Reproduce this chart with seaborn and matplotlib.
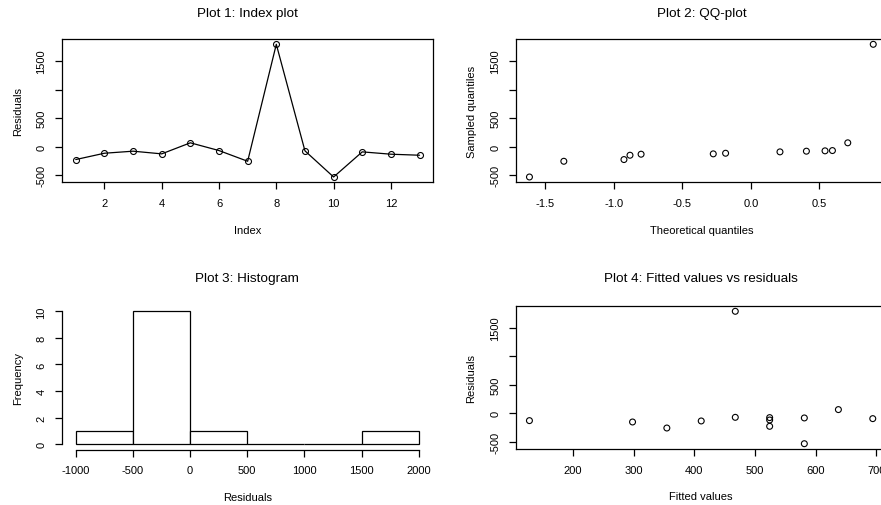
import numpy as np
import matplotlib
matplotlib.use('Agg')
import matplotlib.pyplot as plt
import seaborn as sns

index = list(range(1, 14))
residuals = [-229, -118, -82, -129, 65, -71, -259, 1794, -76, -535, -94, -135, -153]
# theoretical quantiles as drawn in plot 2 (sorted)
theo_q = [-1.617, -1.366, -0.927, -0.883, -0.802, -0.275, -0.185,
          0.212, 0.405, 0.541, 0.595, 0.707, 0.893]
# fitted values per index (plot 4)
fitted = [524.2, 524.2, 581.3, 128.6, 637.4, 467.6, 354.9,
          467.6, 524.2, 581.3, 694.0, 411.5, 298.4]
hist_bins = [-1000, -500, 0, 500, 1000, 1500, 2000]

res_ticks = [-500, 0, 500, 1000, 1500]
res_labels = ['-500', '0', '500', '', '1500']  # R drops the overlapping 1000 label

sns.set_style('ticks')
plt.rcParams['font.family'] = ['Liberation Sans', 'DejaVu Sans']
plt.rcParams.update({
    'axes.unicode_minus': False,
    'xtick.major.size': 5.2, 'ytick.major.size': 5.2,
    'xtick.major.width': 0.9, 'ytick.major.width': 0.9,
    'xtick.major.pad': 6.0, 'ytick.major.pad': 6.0,
    'xtick.labelsize': 8, 'ytick.labelsize': 8,
    'axes.labelsize': 8, 'axes.titlesize': 9.7,
    'axes.linewidth': 0.9, 'axes.edgecolor': 'black',
    'xtick.color': 'black', 'ytick.color': 'black',
    'text.color': 'black', 'axes.labelcolor': 'black',
})

W, H = 881, 506
fig = plt.figure(figsize=(W / 100, H / 100), dpi=100)


def px_axes(l, t, r, b):
    return fig.add_axes([l / W, 1 - b / H, (r - l) / W, (b - t) / H])


def r_lim(vals):
    lo, hi = min(vals), max(vals)
    d = (hi - lo) * 0.04
    return lo - d, hi + d


def finish(ax, title, xlabel, ylabel, title_pad=16.3):
    ax.set_title(title, pad=title_pad)
    ax.set_xlabel(xlabel, labelpad=12)
    ax.set_ylabel(ylabel, labelpad=9.8)
    ax.tick_params(axis='y', labelrotation=90)
    plt.setp(ax.get_yticklabels(), va='center')


# Plot 1
ax1 = px_axes(62, 40, 433.3, 183.3)
sns.lineplot(x=index, y=residuals, ax=ax1, color='black', lw=0.9,
             marker='o', markersize=4.3, markerfacecolor='none',
             markeredgecolor='black', markeredgewidth=0.8)
ax1.set_xlim(r_lim(index))
ax1.set_ylim(r_lim(residuals))
ax1.set_xticks([2, 4, 6, 8, 10, 12])
ax1.set_yticks(res_ticks, res_labels)
finish(ax1, 'Plot 1: Index plot', 'Index', 'Residuals')

# Plot 2
ax2 = px_axes(515.7, 40, 887, 183.3)
sns.scatterplot(x=theo_q, y=np.sort(residuals), ax=ax2, facecolor='none',
                edgecolor='black', linewidth=0.8, s=18)
ax2.set_xlim(r_lim(theo_q))
ax2.set_ylim(r_lim(residuals))
ax2.set_xticks([-1.5, -1.0, -0.5, 0.0, 0.5])
ax2.set_yticks(res_ticks, res_labels)
finish(ax2, 'Plot 2: QQ-plot', 'Theoretical quantiles', 'Sampled quantiles')

# Plot 3
ax3 = px_axes(62, 307, 432.4, 450.5)
sns.histplot(x=residuals, bins=hist_bins, ax=ax3, color='white',
             edgecolor='black', linewidth=0.9, alpha=1)
ax3.set_xlim(r_lim(hist_bins))
ax3.set_ylim(-0.4, 10.4)
ax3.set_xticks(hist_bins)
ax3.set_yticks([0, 2, 4, 6, 8, 10])
ax3.spines['top'].set_visible(False)
ax3.spines['right'].set_visible(False)
ax3.spines['bottom'].set_bounds(-1000, 2000)
ax3.spines['left'].set_bounds(0, 10)
finish(ax3, 'Plot 3: Histogram', 'Residuals', 'Frequency', title_pad=18)

# Plot 4
ax4 = px_axes(515.7, 307, 886.5, 450)
sns.scatterplot(x=fitted, y=residuals, ax=ax4, facecolor='none',
                edgecolor='black', linewidth=0.8, s=18)
ax4.set_xlim(r_lim(fitted))
ax4.set_ylim(r_lim(residuals))
ax4.set_xticks([200, 300, 400, 500, 600, 700])
ax4.set_yticks(res_ticks, res_labels)
finish(ax4, 'Plot 4: Fitted values vs residuals', 'Fitted values', 'Residuals',
       title_pad=18)

fig.savefig('out.png', dpi=100, facecolor='white')
